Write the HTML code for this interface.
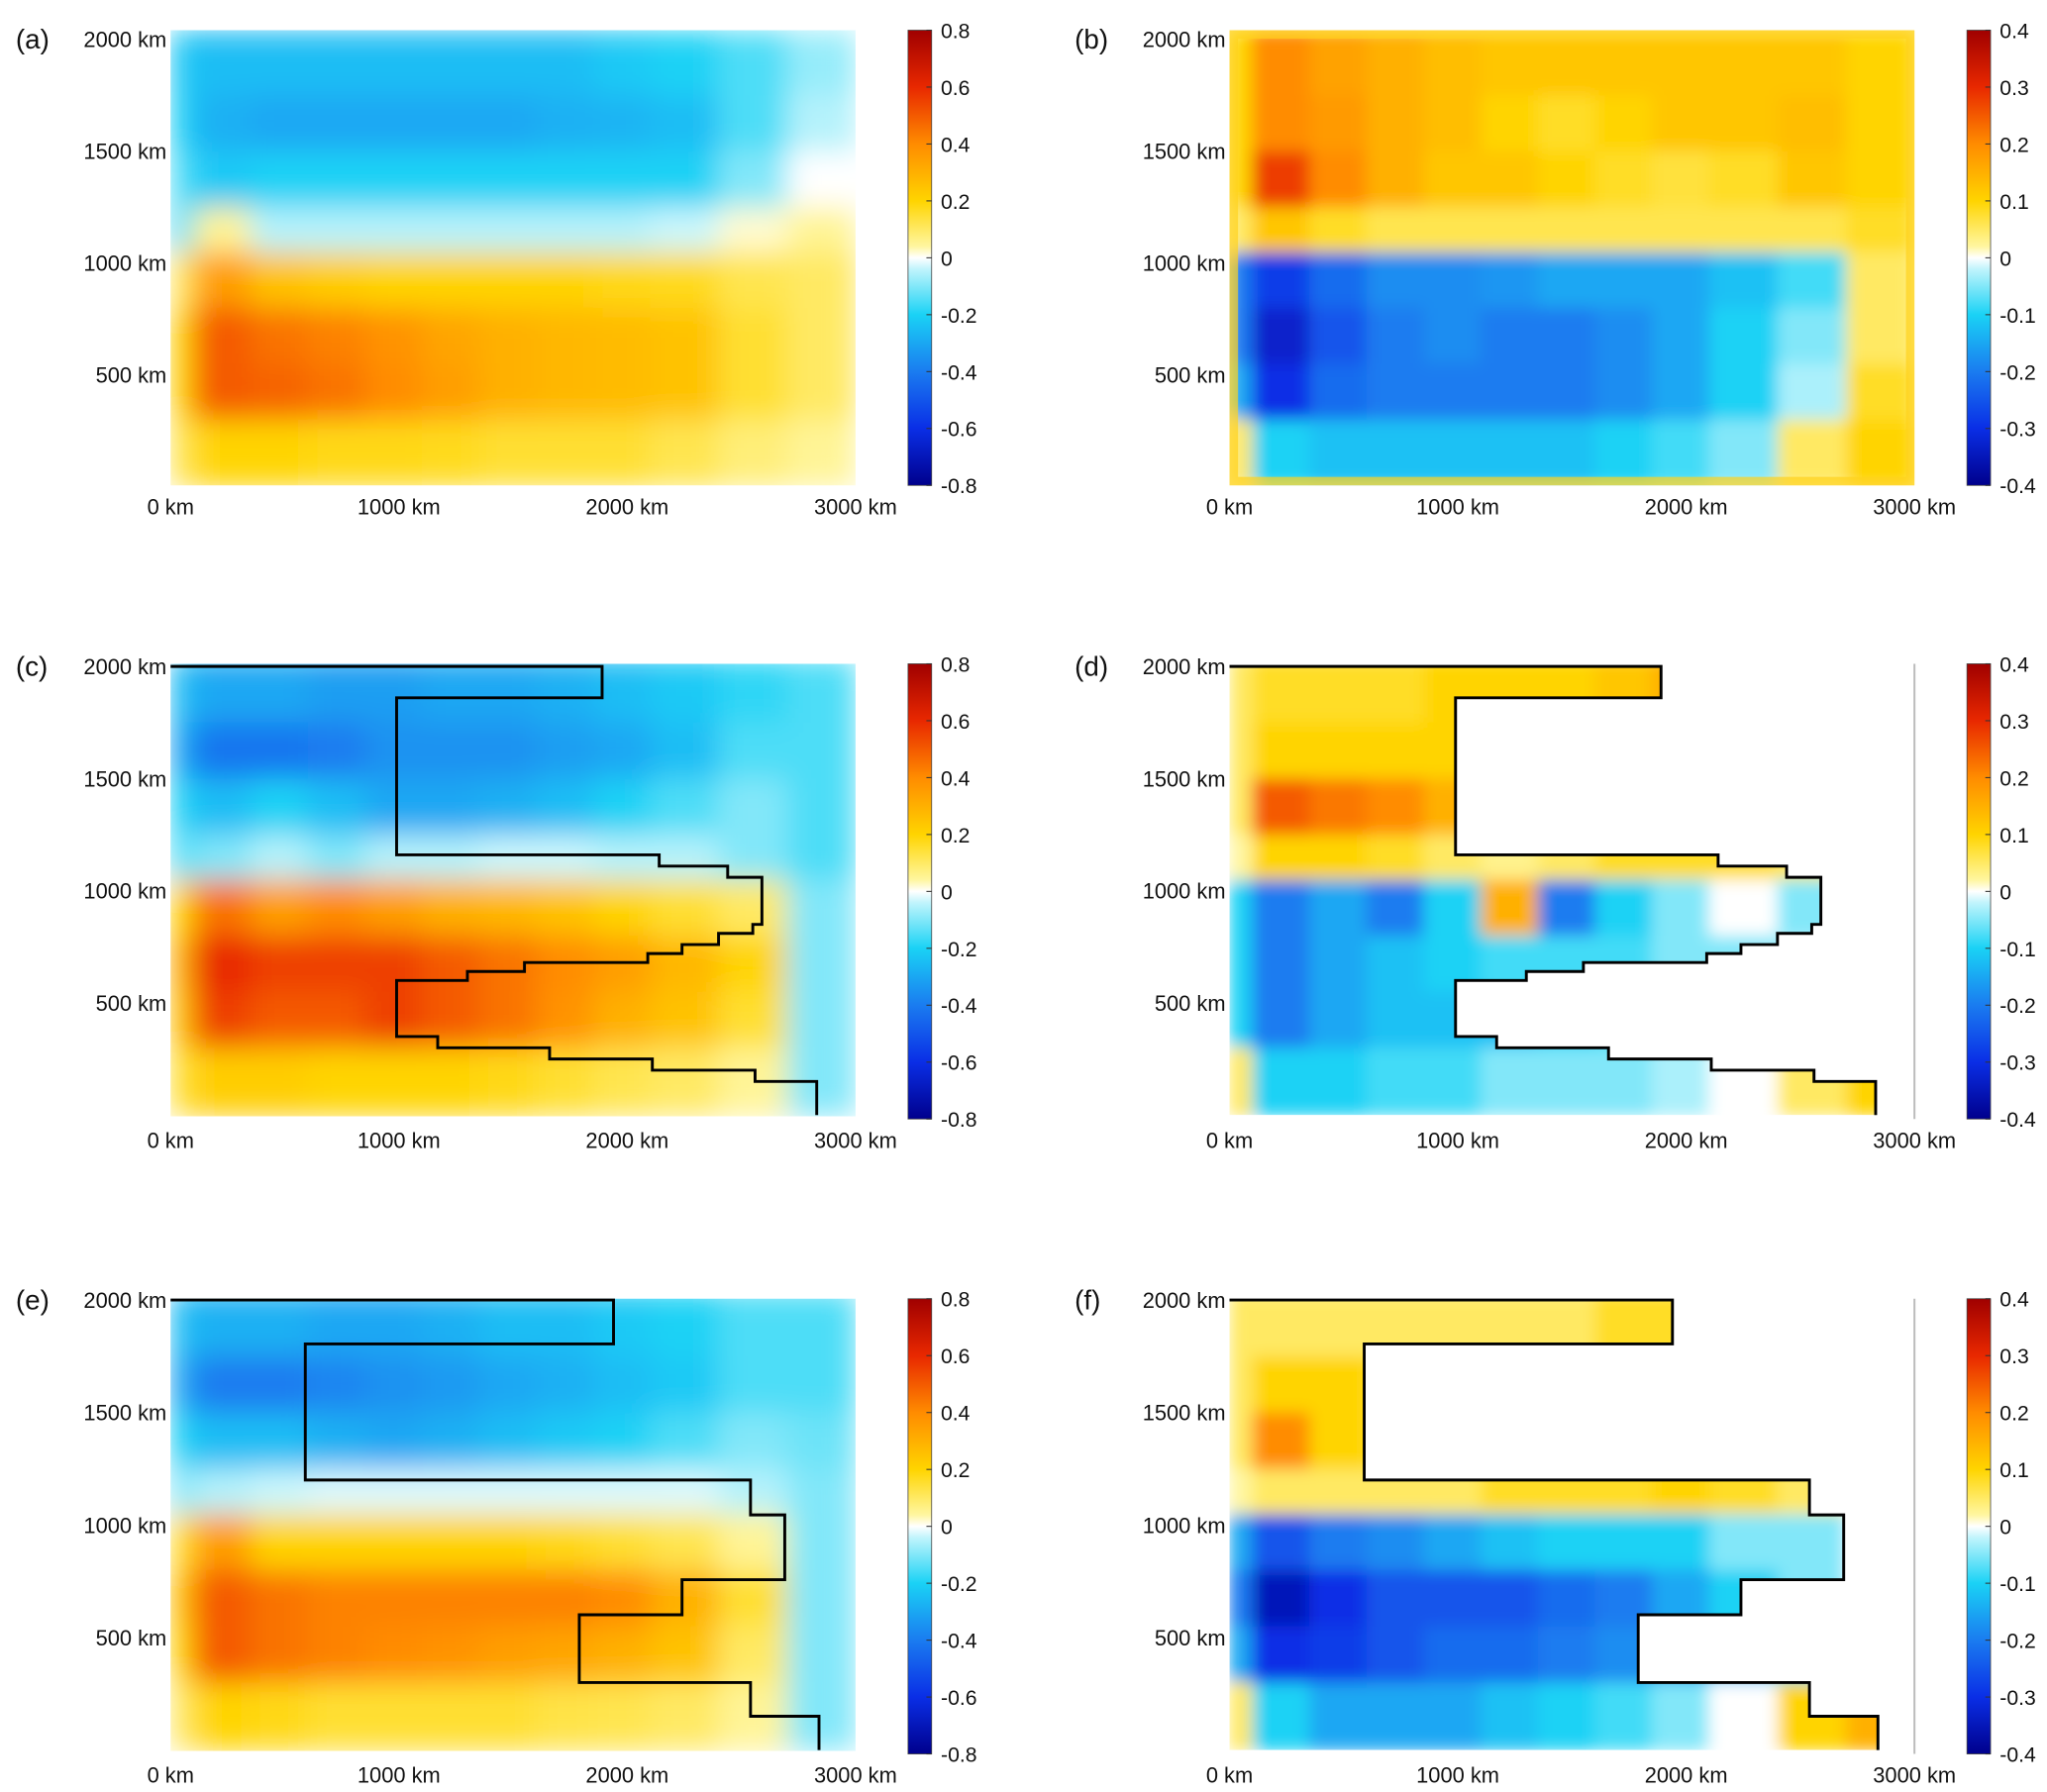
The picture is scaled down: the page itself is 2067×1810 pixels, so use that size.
<!DOCTYPE html>
<html><head><meta charset="utf-8"><style>
html,body{margin:0;padding:0;background:#fff;}
svg{display:block;font-family:"Liberation Sans",Arial,sans-serif;}
</style></head><body>
<svg id="fig" width="2067" height="1810" viewBox="0 0 1560 1366" xmlns="http://www.w3.org/2000/svg">
<defs>
<filter id="blurA" x="0" y="0" width="1" height="1"><feGaussianBlur stdDeviation="11" edgeMode="duplicate"/></filter>
<filter id="blurB" x="0" y="0" width="1" height="1"><feGaussianBlur stdDeviation="6" edgeMode="duplicate"/></filter>
</defs>
</svg>
<script>
// ---- data (rows top=2000km -> bottom=0km, cols 0 -> 3000km) ----
const panelA=[[-0.22,-0.25,-0.25,-0.25,-0.25,-0.25,-0.25,-0.25,-0.22,-0.2,-0.15,-0.08],[-0.2,-0.28,-0.3,-0.3,-0.3,-0.3,-0.3,-0.28,-0.27,-0.25,-0.15,-0.05],[-0.15,-0.22,-0.2,-0.2,-0.2,-0.2,-0.2,-0.2,-0.2,-0.2,-0.1,0.0],[-0.15,0.05,-0.05,-0.05,-0.05,-0.05,-0.05,-0.05,-0.05,-0.03,0.02,0.05],[0.1,0.35,0.25,0.22,0.2,0.2,0.2,0.2,0.18,0.17,0.12,0.1],[0.2,0.5,0.45,0.42,0.38,0.33,0.3,0.28,0.27,0.25,0.15,0.1],[0.2,0.5,0.48,0.45,0.4,0.35,0.3,0.28,0.27,0.25,0.15,0.1],[0.12,0.2,0.2,0.18,0.18,0.17,0.15,0.15,0.15,0.12,0.08,0.05]];
const panelB=[[0.1,0.2,0.17,0.15,0.13,0.12,0.12,0.12,0.12,0.12,0.12,0.1],[0.1,0.2,0.18,0.15,0.13,0.1,0.08,0.1,0.12,0.12,0.13,0.1],[0.1,0.28,0.2,0.15,0.12,0.12,0.1,0.08,0.07,0.08,0.12,0.1],[0.05,0.12,0.08,0.06,0.06,0.06,0.06,0.06,0.06,0.06,0.06,0.08],[-0.2,-0.28,-0.22,-0.18,-0.18,-0.17,-0.15,-0.15,-0.15,-0.12,-0.08,0.05],[-0.2,-0.33,-0.25,-0.2,-0.18,-0.2,-0.2,-0.18,-0.15,-0.1,-0.05,0.05],[-0.15,-0.3,-0.22,-0.2,-0.2,-0.2,-0.2,-0.18,-0.15,-0.1,-0.03,0.08],[0.05,-0.1,-0.12,-0.12,-0.12,-0.12,-0.12,-0.1,-0.08,-0.05,0.05,0.1]];
const panelC=[[-0.25,-0.3,-0.3,-0.32,-0.32,-0.3,-0.3,-0.28,-0.25,-0.22,-0.18,-0.15],[-0.3,-0.42,-0.42,-0.4,-0.35,-0.35,-0.35,-0.32,-0.3,-0.25,-0.15,-0.15],[-0.2,-0.25,-0.2,-0.25,-0.3,-0.3,-0.28,-0.25,-0.2,-0.15,-0.1,-0.15],[-0.15,-0.1,-0.05,-0.1,-0.05,-0.05,-0.03,-0.03,-0.05,-0.05,-0.1,-0.15],[0.2,0.45,0.35,0.4,0.35,0.3,0.28,0.25,0.2,0.15,0.1,-0.1],[0.3,0.6,0.55,0.55,0.55,0.5,0.45,0.4,0.35,0.28,0.2,-0.1],[0.25,0.55,0.5,0.5,0.55,0.5,0.45,0.38,0.3,0.25,0.15,-0.1],[0.15,0.22,0.22,0.2,0.2,0.2,0.18,0.15,0.12,0.1,0.05,-0.1]];
const panelD=[[0.05,0.08,0.08,0.08,0.1,0.1,0.1,0.12,0.15,0.1,0.1,0.1],[0.05,0.1,0.1,0.1,0.1,0.08,0.08,0.08,0.08,0.08,0.08,0.08],[0.05,0.25,0.22,0.2,0.15,0.1,0.1,0.1,0.1,0.1,0.1,0.1],[0.02,0.1,0.1,0.08,0.05,0.03,0.05,0.08,0.08,0.08,0.05,0],[-0.1,-0.2,-0.15,-0.2,-0.1,0.15,-0.2,-0.1,-0.05,0,-0.05,0],[-0.1,-0.2,-0.15,-0.12,-0.1,-0.08,-0.08,-0.08,-0.05,-0.05,-0.03,0],[-0.1,-0.2,-0.15,-0.12,-0.12,-0.12,-0.1,-0.08,-0.05,-0.05,-0.03,0],[0.05,-0.1,-0.1,-0.08,-0.08,-0.05,-0.05,-0.05,-0.03,0,0.05,0.1]];
const panelE=[[-0.25,-0.28,-0.28,-0.3,-0.3,-0.28,-0.25,-0.25,-0.22,-0.2,-0.15,-0.15],[-0.3,-0.4,-0.4,-0.38,-0.35,-0.33,-0.3,-0.28,-0.25,-0.22,-0.15,-0.15],[-0.2,-0.25,-0.25,-0.28,-0.3,-0.28,-0.25,-0.22,-0.2,-0.15,-0.1,-0.12],[-0.1,-0.05,-0.03,-0.02,-0.02,-0.02,-0.02,-0.02,-0.02,-0.02,-0.05,-0.1],[0.15,0.35,0.2,0.2,0.2,0.2,0.2,0.18,0.15,0.12,0.05,-0.1],[0.25,0.5,0.45,0.42,0.42,0.42,0.42,0.42,0.4,0.3,0.15,-0.1],[0.2,0.5,0.45,0.42,0.4,0.38,0.35,0.33,0.3,0.25,0.1,-0.1],[0.1,0.2,0.18,0.15,0.15,0.15,0.15,0.13,0.12,0.1,0.05,-0.1]];
const panelF=[[0.05,0.05,0.05,0.05,0.05,0.05,0.05,0.08,0.08,0.08,0.08,0.08],[0.05,0.1,0.1,0.08,0.08,0.08,0.08,0.08,0.08,0.08,0.08,0.08],[0.05,0.2,0.1,0.08,0.06,0.06,0.06,0.06,0.06,0.06,0.06,0.06],[0.02,0.05,0.05,0.05,0.05,0.08,0.08,0.08,0.1,0.08,0.05,0],[-0.15,-0.25,-0.2,-0.18,-0.15,-0.12,-0.1,-0.1,-0.1,-0.05,-0.05,0],[-0.2,-0.35,-0.3,-0.25,-0.25,-0.25,-0.22,-0.2,-0.15,-0.1,-0.05,0],[-0.15,-0.3,-0.28,-0.25,-0.22,-0.22,-0.2,-0.18,-0.15,-0.12,-0.08,0],[0.05,-0.1,-0.15,-0.15,-0.15,-0.12,-0.1,-0.08,-0.05,0,0.1,0.15]];
const gridColKm=[0,100,350,600,850,1100,1350,1600,1850,2100,2400,2700,3000];
const gridRowKm=[2040,1750,1500,1250,1050,800,550,300,0];
const outlineCD=[[0,2000],[1890,2000],[1890,1860],[990,1860],[990,1160],[2140,1160],[2140,1110],[2440,1110],[2440,1060],[2590,1060],[2590,850],[2550,850],[2550,810],[2400,810],[2400,760],[2240,760],[2240,720],[2090,720],[2090,680],[1550,680],[1550,640],[1300,640],[1300,600],[990,600],[990,350],[1170,350],[1170,300],[1660,300],[1660,250],[2110,250],[2110,200],[2560,200],[2560,150],[2830,150],[2830,0],[0,0]];
const outlineEF=[[0,2000],[1940,2000],[1940,1805],[590,1805],[590,1200],[2540,1200],[2540,1045],[2690,1045],[2690,757],[2240,757],[2240,601],[1790,601],[1790,300],[2540,300],[2540,150],[2840,150],[2840,0],[0,0]];
const xTicks=[0,1000,2000,3000];
const yTicks=[500,1000,1500,2000];
const cbTicksWide=[0.8,0.6,0.4,0.2,0,-0.2,-0.4,-0.6,-0.8];
const cbTicksNarrow=[0.4,0.3,0.2,0.1,0,-0.1,-0.2,-0.3,-0.4];

const NS="http://www.w3.org/2000/svg";
const svg=document.getElementById('fig');
const stops=[[-1,[0,0,140]],[-0.75,[10,46,230]],[-0.5,[26,124,240]],[-0.25,[26,210,245]],[-0.04,[200,246,252]],[0,[255,255,255]],[0.05,[255,246,160]],[0.25,[255,212,0]],[0.5,[255,140,0]],[0.75,[232,40,0]],[1,[160,0,0]]];
function cmap(t){t=Math.max(-1,Math.min(1,t));for(let i=0;i<stops.length-1;i++){const a=stops[i],b=stops[i+1];if(t<=b[0]){const f=(t-a[0])/(b[0]-a[0]);const c=a[1].map((v,k)=>Math.round(v+(b[1][k]-v)*f));return `rgb(${c[0]},${c[1]},${c[2]})`;}}return 'rgb(160,0,0)';}
function mk(tag,attrs,parent){const e=document.createElementNS(NS,tag);for(const k in attrs)e.setAttribute(k,attrs[k]);(parent||svg).appendChild(e);return e;}

const panels=[
 {id:'a',x0:130,y0:23,yz:371,y2k:30,data:panelA,max:0.8,cbt:cbTicksWide,blur:'blurA'},
 {id:'b',x0:937,y0:23,yz:371,y2k:30,data:panelB,max:0.4,cbt:cbTicksNarrow,blur:'blurB',border:true},
 {id:'c',x0:130,y0:506,yz:850,y2k:508,data:panelC,max:0.8,cbt:cbTicksWide,blur:'blurA',outline:outlineCD},
 {id:'d',x0:937,y0:506,yz:850,y2k:508,data:panelD,max:0.4,cbt:cbTicksNarrow,blur:'blurB',outline:outlineCD,mask:true},
 {id:'e',x0:130,y0:990,yz:1334,y2k:991,data:panelE,max:0.8,cbt:cbTicksWide,blur:'blurA',outline:outlineEF},
 {id:'f',x0:937,y0:990,yz:1334,y2k:991,data:panelF,max:0.4,cbt:cbTicksNarrow,blur:'blurB',outline:outlineEF,mask:true}
];
const W=522,H=347;
panels.forEach(p=>{
 const xs=km=>p.x0+km/3000*W;
 const ys=km=>p.yz+km/2000*(p.y2k-p.yz);
 const g=mk('g',{});
 
 
 const cid='clip'+p.id;
 const cp=mk('clipPath',{id:cid},svg.querySelector('defs'));
 if(p.mask){mk('polygon',{points:p.outline.map(q=>xs(q[0])+','+ys(q[1])).join(' ')},cp);}
 else mk('rect',{x:p.x0,y:p.y0,width:W,height:H},cp);
 const clipG=mk('g',{'clip-path':`url(#${cid})`},g);
 const heat=mk('g',{filter:`url(#${p.blur})`},clipG);
 
 
 const rows=p.data.length,cols=p.data[0].length;
 for(let r=0;r<rows;r++)for(let c=0;c<cols;c++){
  const x1=xs(gridColKm[c]),x2=xs(gridColKm[c+1]),y1=ys(gridRowKm[r]),y2=ys(gridRowKm[r+1]);
  const cell=mk('rect',{x:x1,y:y1,width:x2-x1+0.6,height:y2-y1+0.6,fill:cmap(p.data[r][c]/p.max)},heat);
  
  
 }
 if(p.border){mk('rect',{x:p.x0+3,y:p.y0+3,width:W-6,height:H-6,fill:'none',stroke:'#ffd21a','stroke-width':7,opacity:0.7},clipG);}
 if(p.outline){
  const pts=p.outline.slice(0,p.outline.length-1).map(q=>xs(q[0])+','+ys(q[1])).join(' ');
  const pl=mk('polyline',{points:pts,fill:'none',stroke:'#000','stroke-width':2.2},g);
  
  
 }
 if(p.mask){const gl=mk('line',{x1:p.x0+W,y1:p.y0,x2:p.x0+W,y2:p.y0+H,stroke:'#bbb','stroke-width':1.5},g);}
 const lt=mk('text',{x:p.x0-118,y:p.y2k+7,'font-size':21,fill:'#111'},g);lt.textContent='('+p.id+')';
 
 yTicks.forEach(v=>{const t=mk('text',{x:p.x0-3,y:ys(v)+6,'font-size':16.5,'text-anchor':'end',fill:'#111'},g);t.textContent=v+' km';});
 xTicks.forEach(v=>{const t=mk('text',{x:xs(v),y:p.y0+H+22,'font-size':16.5,'text-anchor':'middle',fill:'#111'},g);t.textContent=v+' km';});
 const cx=p.x0+W+40,cw=18;
 const gid='grad'+p.id;
 const lg=mk('linearGradient',{id:gid,x1:0,y1:0,x2:0,y2:1},svg.querySelector('defs'));
 for(let i=0;i<=40;i++){const v=1-2*i/40;mk('stop',{offset:(i/40),'stop-color':cmap(v)},lg);}
 const cb=mk('rect',{x:cx,y:p.y0,width:cw,height:H,fill:`url(#${gid})`,stroke:'#444','stroke-width':0.6},g);
 
 p.cbt.forEach(v=>{const y=p.y0+(p.max-v)/(2*p.max)*H;
  mk('line',{x1:cx+cw-4,x2:cx+cw,y1:y,y2:y,stroke:'#333','stroke-width':0.8},g);
  const t=mk('text',{x:cx+cw+7,y:y+6,'font-size':16,fill:'#111'},g);t.textContent=String(v);});
});
</script>
</body></html>
